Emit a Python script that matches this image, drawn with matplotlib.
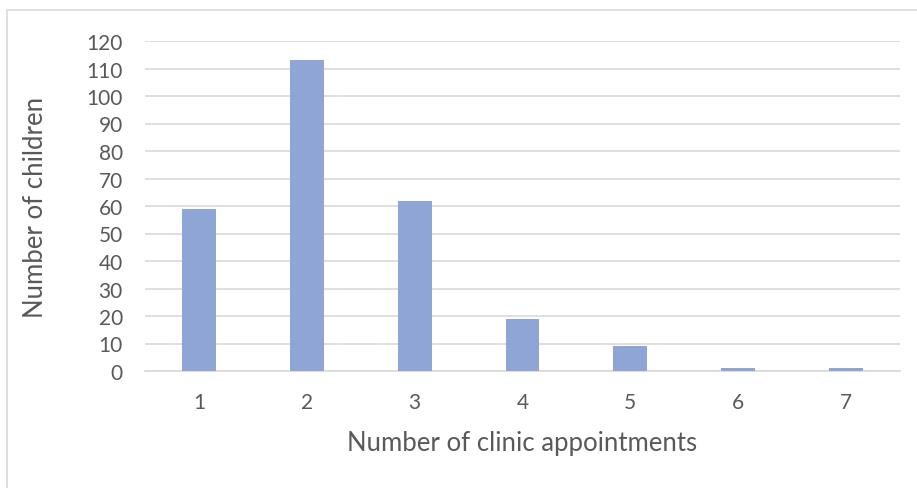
import matplotlib.pyplot as plt
from matplotlib.patches import Rectangle

categories = ["1", "2", "3", "4", "5", "6", "7"]
children = [59, 113, 62, 19, 9, 1, 1]
yticks = list(range(0, 130, 10))

plt.rcParams['font.family'] = ['Lato', 'DejaVu Sans']
grey = '#595959'

fig = plt.figure(figsize=(9.17, 4.89), dpi=100)
ax = fig.add_axes([145/917, 1 - 372/489, (900 - 145)/917, (372 - 42)/489])

x = list(range(len(categories)))
ax.bar(x, children, width=0.315, color='#8FA5D6', zorder=3)

ax.set_xlim(-0.5, len(categories) - 0.5)
ax.set_ylim(0, 120)
ax.set_yticks(yticks)
ax.set_xticks(x)
ax.set_xticklabels(categories)
ax.yaxis.grid(True, color='#D9D9D9', linewidth=1.2, zorder=0)
ax.tick_params(axis='both', length=0, labelsize=15, colors=grey)
ax.tick_params(axis='x', pad=15)
ax.tick_params(axis='y', pad=16)
for s in ['top', 'right', 'left']:
    ax.spines[s].set_visible(False)
ax.spines['bottom'].set_color('#D9D9D9')
ax.spines['bottom'].set_linewidth(1.2)

ax.set_xlabel('Number of clinic appointments', fontsize=18.5, color=grey)
ax.set_ylabel('Number of children', fontsize=18.5, color=grey)
ax.xaxis.set_label_coords(0.5, -0.18)
ax.yaxis.set_label_coords(-0.128, 0.5)

# chart border
fig.patches.append(Rectangle((7/917, -0.1), 1.2, 1 - 11/489 + 0.1, transform=fig.transFigure,
                             fill=False, edgecolor='#D9D9D9', linewidth=1.2))

fig.savefig('out.png', dpi=100)
